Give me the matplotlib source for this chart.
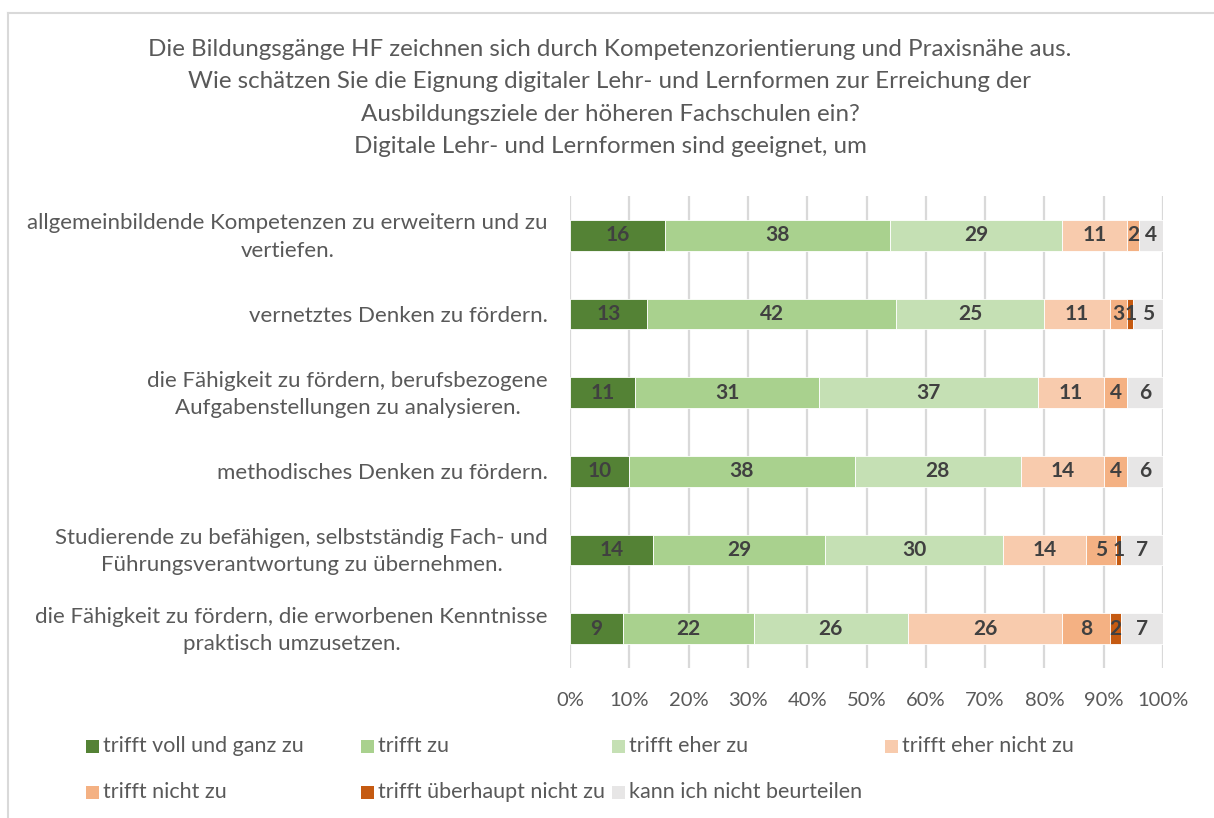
import numpy as np
import matplotlib.pyplot as plt
from matplotlib.patches import Rectangle
from matplotlib.transforms import ScaledTranslation

plt.rcParams['font.family'] = ['Lato', 'DejaVu Sans']

# categories, top to bottom as drawn
categories = [
    "allgemeinbildende Kompetenzen zu erweitern und zu\nvertiefen.",
    "vernetztes Denken zu fördern.",
    "die Fähigkeit zu fördern, berufsbezogene\nAufgabenstellungen zu analysieren.",
    "methodisches Denken zu fördern.",
    "Studierende zu befähigen, selbstständig Fach- und\nFührungsverantwortung zu übernehmen.",
    "die Fähigkeit zu fördern, die erworbenen Kenntnisse\npraktisch umzusetzen.",
]

series_names = [
    "trifft voll und ganz zu",
    "trifft zu",
    "trifft eher zu",
    "trifft eher nicht zu",
    "trifft nicht zu",
    "trifft überhaupt nicht zu",
    "kann ich nicht beurteilen",
]

voll_ganz = [16, 13, 11, 10, 14, 9]
zu = [38, 42, 31, 38, 29, 22]
eher_zu = [29, 25, 37, 28, 30, 26]
eher_nicht = [11, 11, 11, 14, 14, 26]
nicht_zu = [2, 3, 4, 4, 5, 8]
ueberhaupt_nicht = [0, 1, 0, 0, 1, 2]
nicht_beurteilen = [4, 5, 6, 6, 7, 7]

colors = ['#548235', '#A9D18E', '#C5E0B4', '#F8CBAD', '#F4B183', '#C55A11', '#E7E6E6']

title = ("Die Bildungsgänge HF zeichnen sich durch Kompetenzorientierung und Praxisnähe aus.\n"
         "Wie schätzen Sie die Eignung digitaler Lehr- und Lernformen zur Erreichung der\n"
         "Ausbildungsziele der höheren Fachschulen ein?\n"
         "Digitale Lehr- und Lernformen sind geeignet, um")

W, H = 1214, 818
fig = plt.figure(figsize=(W / 100, H / 100), dpi=100)
txt = '#595959'

# plot area in pixels
x0, x1, ytop, ybot = 570, 1163, 196, 668
ax = fig.add_axes([x0 / W, 1 - ybot / H, (x1 - x0) / W, (ybot - ytop) / H])

data = np.array([voll_ganz, zu, eher_zu, eher_nicht, nicht_zu, ueberhaupt_nicht, nicht_beurteilen], dtype=float)
totals = data.sum(axis=0)
shares = data / totals * 100
ypos = np.arange(len(categories))

left = np.zeros(len(categories))
for i, name in enumerate(series_names):
    ax.barh(ypos, shares[i], left=left, height=0.39, color=colors[i],
            edgecolor='white', linewidth=0.6, zorder=3)
    for j in range(len(categories)):
        v = data[i, j]
        if v > 0:
            ax.text(left[j] + shares[i, j] / 2, ypos[j], f"{int(v)}", ha='center', va='center',
                    fontsize=15, fontweight='bold', color='#404040', zorder=4)
    left += shares[i]

ax.set_xlim(0, 100)
ax.set_ylim(len(categories) - 0.5, -0.5)
ax.set_xticks(np.arange(0, 101, 10))
ax.set_xticklabels([f"{t}%" for t in range(0, 101, 10)], fontsize=14.5, color=txt)
ax.set_yticks(ypos)
ax.set_yticklabels(categories, fontsize=16, color=txt, ha='right', linespacing=1.45)
ax.tick_params(axis='both', length=0)
ax.tick_params(axis='x', pad=17)
ax.tick_params(axis='y', pad=16)
# two-line labels sit a little higher in the original
shift = ScaledTranslation(0, 4 / 100, fig.dpi_scale_trans)
for lab in ax.get_yticklabels():
    lab.set_multialignment('center')
    if '\n' in lab.get_text():
        lab.set_transform(lab.get_transform() + shift)
ax.grid(axis='x', color='#D9D9D9', linewidth=1.6, zorder=0)
for s in ax.spines.values():
    s.set_visible(False)

fig.text(610 / W, 1 - 98 / H, title, ha='center', va='center', fontsize=17.4,
         color=txt, linespacing=1.66)

# legend, laid out like the Excel one
leg_x = [86, 361, 612, 885]
leg_y = [746, 792]
for k, name in enumerate(series_names):
    r, c = divmod(k, 4)
    lx, ly = leg_x[c], leg_y[r]
    fig.patches.append(Rectangle((lx / W, 1 - (ly + 7) / H), 13 / W, 13 / H,
                                 transform=fig.transFigure, facecolor=colors[k],
                                 edgecolor='none'))
    fig.text((lx + 17) / W, 1 - ly / H, name, ha='left', va='center',
             fontsize=15.5, color=txt)

# chart frame
fig.add_artist(plt.Line2D([8 / W, 1], [1 - 13 / H] * 2, color='#D9D9D9', linewidth=1.5,
                          transform=fig.transFigure))
fig.add_artist(plt.Line2D([8 / W, 8 / W], [0, 1 - 13 / H], color='#D9D9D9', linewidth=1.5,
                          transform=fig.transFigure))

fig.savefig('out.png', dpi=100)
